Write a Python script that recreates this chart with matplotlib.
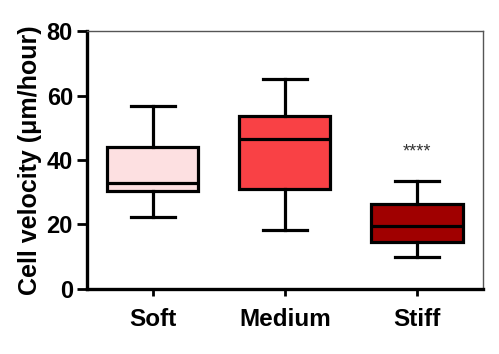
import matplotlib
matplotlib.use('Agg')
import matplotlib.pyplot as plt

matplotlib.rcParams['font.family'] = ['Liberation Sans', 'DejaVu Sans']
matplotlib.rcParams['font.weight'] = 'bold'

# Box summary values
groups = ['Soft', 'Medium', 'Stiff']
whislo = [22.2, 18.3, 9.8]
q1 = [30.5, 31.0, 14.7]
med = [33.0, 46.4, 19.5]
q3 = [44.1, 53.7, 26.4]
whishi = [56.7, 65.0, 33.6]
colors = ['#fde0e1', '#f94145', '#a00000']

stats = []
for i in range(len(groups)):
    stats.append({'label': groups[i], 'whislo': whislo[i], 'q1': q1[i],
                  'med': med[i], 'q3': q3[i], 'whishi': whishi[i], 'fliers': []})

fig = plt.figure(figsize=(4.99, 3.54), dpi=100)
ax = fig.add_axes([0.174, 0.184, 0.794, 0.728])

lw = 2.3
bp = ax.bxp(stats, positions=[1, 2, 3], widths=0.69, patch_artist=True,
            showfliers=False,
            boxprops=dict(linewidth=lw, edgecolor='black'),
            medianprops=dict(linewidth=lw, color='black'),
            whiskerprops=dict(linewidth=lw, color='black'),
            capprops=dict(linewidth=lw, color='black'),
            capwidths=0.33)
for patch, c in zip(bp['boxes'], colors):
    patch.set_facecolor(c)

ax.text(3, 42.6, '****', ha='center', va='center', fontsize=13,
        fontweight='normal', color='#333333')

ax.set_xlim(0.5, 3.5)
ax.set_ylim(0, 80)
ax.set_yticks([0, 20, 40, 60, 80])
ax.set_ylabel('Cell velocity (μm/hour)', fontsize=18, fontweight='bold', labelpad=3)
ax.tick_params(axis='y', labelsize=17, width=2, length=7, direction='out', pad=3)
ax.tick_params(axis='x', labelsize=17.5, width=2, length=5, direction='out', pad=9)

for s in ['left', 'bottom']:
    ax.spines[s].set_linewidth(2.4)
for s in ['top', 'right']:
    ax.spines[s].set_linewidth(1.0)
    ax.spines[s].set_color('#555555')

fig.savefig('out.png', dpi=100)
